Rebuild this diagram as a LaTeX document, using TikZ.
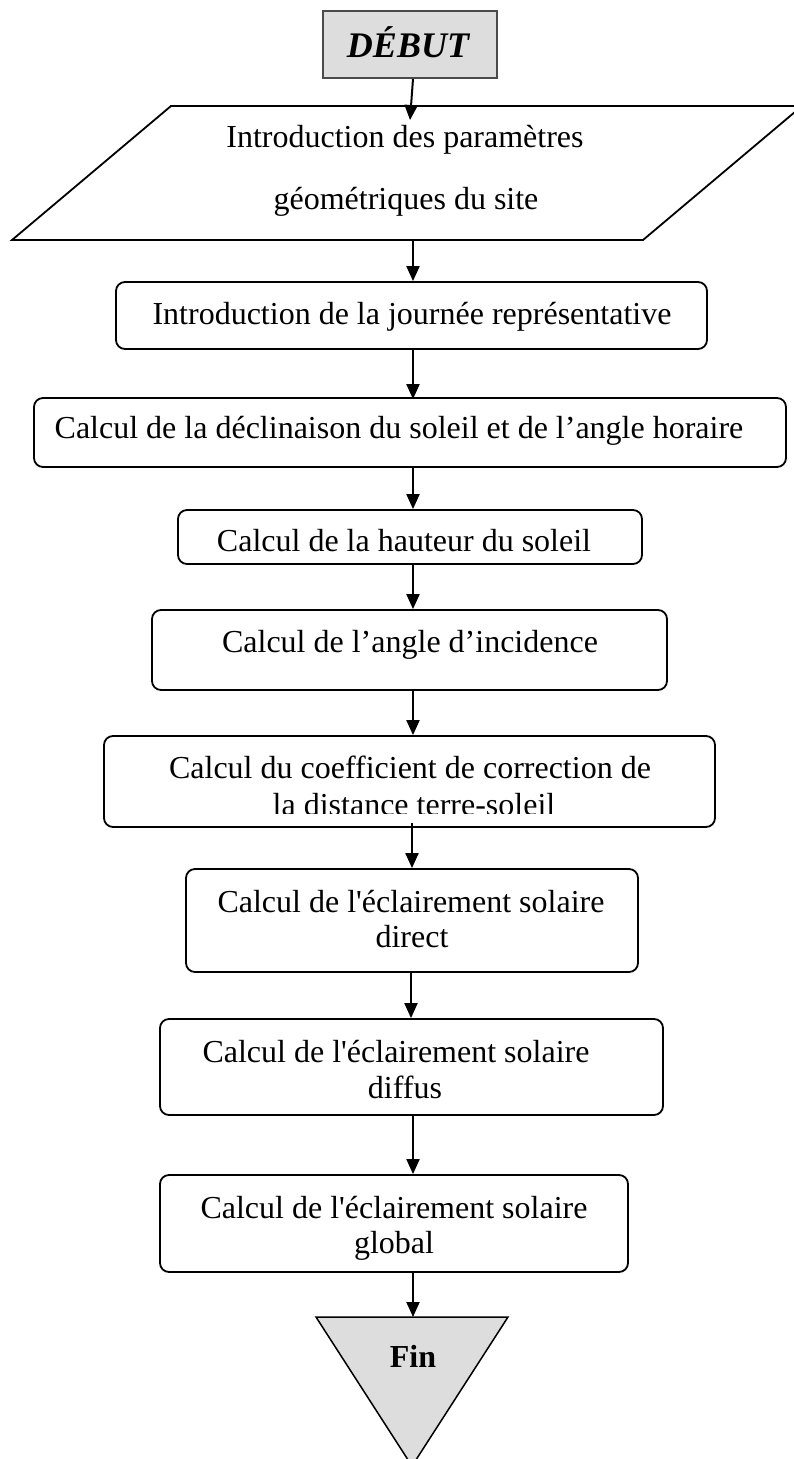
\documentclass[tikz,border=0pt]{standalone}
\usepackage{fontspec}
\setmainfont{Liberation Serif}[Ligatures=TeXOff]
\usetikzlibrary{arrows.meta,fit}
\definecolor{boxgray}{HTML}{DDDDDD}
\definecolor{edgegray}{HTML}{4A4A4A}
\tikzset{
  box/.style={draw, line width=1.8pt, rounded corners=9pt, inner sep=0pt},
  txt/.style={anchor=base, inner sep=0pt, font=\fontsize{32}{36}\selectfont},
  arr/.style={line width=2pt, -{Triangle[length=15pt,width=13pt]}},
}
\begin{document}
\begin{tikzpicture}[x=1pt,y=-1pt]
\useasboundingbox (0,0) rectangle (794,1459);
\coordinate (ax) at (413,0);

% start
\node[draw=edgegray, fill=boxgray, line width=1.8pt, inner sep=0pt, fit={(323,11) (497,78)}] (b1) {};
\node[anchor=base, inner sep=0pt, font=\fontsize{36}{40}\selectfont\bfseries\itshape] (t1) at (408,57) {DÉBUT};

% parallelogram
\coordinate (pTL) at (171,106);
\coordinate (pTR) at (802,106);
\coordinate (pBR) at (643,240);
\coordinate (pBL) at (12,240);
\draw[line width=1.8pt] (pTL) -- (pTR) -- (pBR) -- (pBL) -- cycle;
\coordinate (pIn) at (410,120);
\coordinate (pOut) at (413,240);
\node[txt] (tp1) at (405,147) {Introduction des paramètres};
\node[txt] (tp2) at (406,209) {géométriques du site};

% boxes
\node[box, fit={(116,282) (707,349)}] (b2) {};
\node[txt] (t2) at (412,324) {Introduction de la journée représentative};

\node[box, fit={(34,398) (786,467)}] (b3) {};
\node[txt] (t3) at (399,438) {Calcul de la déclinaison du soleil et de l’angle horaire};

\node[box, fit={(178,510) (642,564)}] (b4) {};
\node[txt] (t4) at (404,551) {Calcul de la hauteur du soleil};

\node[box, fit={(152,610) (667,690)}] (b5) {};
\node[txt] (t5) at (410,652) {Calcul de l’angle d’incidence};

\node[box, fit={(104,736) (715,827)}] (b6) {};
\node[txt] (t6a) at (410,778) {Calcul du coefficient de correction de};
\begin{scope}
\clip (104,736) rectangle (715,813);
\node[txt] (t6b) at (414,815) {la distance terre-soleil};
\end{scope}
\coordinate (b6out) at (412,823);

\node[box, fit={(186,869) (638,972)}] (b7) {};
\node[txt] (t7a) at (411,912) {Calcul de l'éclairement solaire};
\node[txt] (t7b) at (412,947) {direct};

\node[box, fit={(160,1019) (663,1115)}] (b8) {};
\node[txt] (t8a) at (396,1062) {Calcul de l'éclairement solaire};
\node[txt] (t8b) at (405,1098) {diffus};

\node[box, fit={(160,1175) (628,1272)}] (b9) {};
\node[txt] (t9a) at (394,1218) {Calcul de l'éclairement solaire};
\node[txt] (t9b) at (394,1253) {global};

% end triangle
\coordinate (fTL) at (316,1317);
\coordinate (fTR) at (508,1317);
\coordinate (fB) at (412,1466);
\coordinate (fTop) at (413,1317);
\draw[fill=boxgray, line width=1.5pt] (fTL) -- (fTR) -- (fB) -- cycle;
\node[anchor=base, inner sep=0pt, font=\fontsize{32}{36}\selectfont\bfseries] (tf) at (413,1367) {Fin};

% connectors
\draw[arr] ([xshift=3pt]b1.south) -- (pIn);
\draw[arr] (pOut) -- (b2.north -| ax);
\draw[arr] (b2.south -| ax) -- ([yshift=-2pt]b3.north -| ax);
\draw[arr] (b3.south -| ax) -- (b4.north -| ax);
\draw[arr] (b4.south -| ax) -- (b5.north -| ax);
\draw[arr] (b5.south -| ax) -- (b6.north -| ax);
\draw[arr] (b6out) -- (b7.north -| b6out);
\draw[arr] ([xshift=-2pt]b7.south -| ax) -- ([xshift=-2pt]b8.north -| ax);
\draw[arr] (b8.south -| ax) -- (b9.north -| ax);
\draw[arr] (b9.south -| ax) -- (fTop);
\end{tikzpicture}
\end{document}
